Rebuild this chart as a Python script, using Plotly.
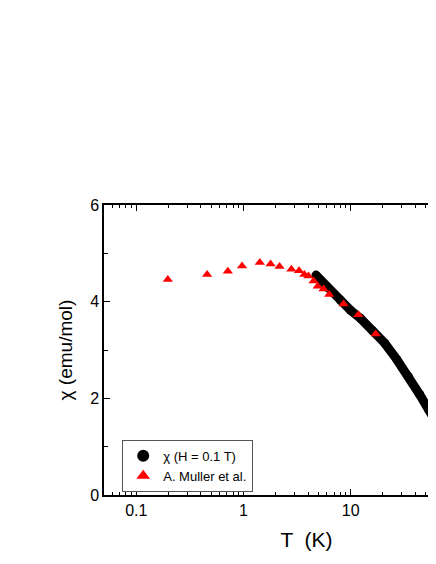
import plotly.graph_objects as go

T_chi = [4.75, 6.0, 8.04, 10.0, 12.4, 16.0, 20.8, 27.0, 34.7, 44.0, 53.5, 64.0, 74.0, 100.0, 150.0, 200.0, 300.0]
chi = [4.55, 4.30, 4.03, 3.82, 3.65, 3.40, 3.14, 2.80, 2.45, 2.08, 1.76, 1.48, 1.24, 0.95, 0.65, 0.50, 0.34]

T_mul = [0.197, 0.458, 0.715, 0.97, 1.42, 1.79, 2.17, 2.80, 3.30, 3.70, 4.04, 4.51, 4.93, 5.58, 6.31, 8.58, 11.8, 17.1]
chi_mul = [4.46, 4.56, 4.63, 4.74, 4.81, 4.78, 4.73, 4.67, 4.64, 4.56, 4.53, 4.43, 4.32, 4.26, 4.15, 3.95, 3.73, 3.33]

fig = go.Figure()
fig.add_trace(go.Scatter(x=T_chi, y=chi, mode="lines", showlegend=False,
                         line=dict(color="black", width=9)))
fig.add_trace(go.Scatter(x=T_chi, y=chi, mode="markers", name="χ (H = 0.1 T)",
                         marker=dict(color="black", size=9)))
fig.add_trace(go.Scatter(x=T_mul, y=chi_mul, mode="markers", name="A. Muller et al.",
                         marker=dict(color="red", symbol="triangle-up", size=9)))

axis_common = dict(showline=True, linecolor="black", linewidth=1.5, mirror="ticks",
                   ticks="inside", ticklen=6, tickwidth=1.2, tickcolor="black",
                   showgrid=False, zeroline=False, tickfont=dict(size=16, color="black"))
fig.update_xaxes(type="log", range=[-1.301, 2.477], tickvals=[0.1, 1, 10, 100],
                 ticktext=["0.1", "1", "10", "100"],
                 minor=dict(ticks="inside", ticklen=3, dtick="D1", tickcolor="black", showgrid=False),
                 title=dict(text="T  (K)", font=dict(size=21, color="black"), standoff=14),
                 **axis_common)
fig.update_yaxes(range=[0, 6], dtick=2,
                 minor=dict(ticks="inside", ticklen=4, dtick=1, tickcolor="black", showgrid=False),
                 title=dict(text="χ (emu/mol)", font=dict(size=19, color="black"), standoff=12),
                 **axis_common)
fig.update_layout(width=560, height=564, margin=dict(l=96, r=59, t=197, b=77),
                  plot_bgcolor="white", paper_bgcolor="white",
                  font=dict(family="Liberation Sans, Arial", color="black"),
                  legend=dict(x=0.045, y=0.19, xanchor="left", yanchor="top",
                              bordercolor="#555", borderwidth=1, bgcolor="white",
                              font=dict(size=13), tracegroupgap=0, itemsizing="constant"))
fig.write_html("out.html")
